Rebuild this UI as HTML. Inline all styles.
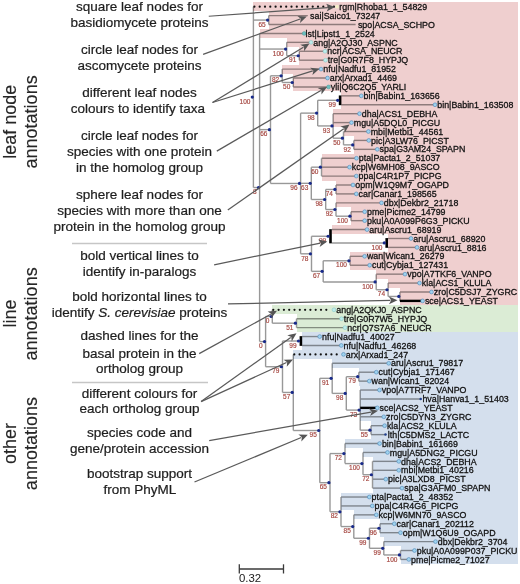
<!DOCTYPE html>
<html><head><meta charset="utf-8"><title>tree</title>
<style>
html,body{margin:0;padding:0;background:#fff;}
body{width:520px;height:584px;overflow:hidden;}
svg{display:block;}
</style></head><body>
<svg width="520" height="584" viewBox="0 0 520 584">
<rect width="520" height="584" fill="#fff"/>
<g shape-rendering="crispEdges">
<rect x="253.40" y="2.24" width="264.20" height="8.93" fill="#efcfcf"/>
<rect x="268.70" y="11.16" width="248.90" height="8.93" fill="#efcfcf"/>
<rect x="268.70" y="20.07" width="248.90" height="8.93" fill="#efcfcf"/>
<rect x="259.60" y="28.99" width="258.00" height="8.93" fill="#efcfcf"/>
<rect x="286.70" y="37.90" width="230.90" height="8.93" fill="#efcfcf"/>
<rect x="299.30" y="46.82" width="218.30" height="8.93" fill="#efcfcf"/>
<rect x="299.30" y="55.73" width="218.30" height="8.93" fill="#efcfcf"/>
<rect x="282.20" y="64.65" width="235.40" height="8.93" fill="#efcfcf"/>
<rect x="293.30" y="73.56" width="224.30" height="8.93" fill="#efcfcf"/>
<rect x="293.30" y="82.48" width="224.30" height="8.93" fill="#efcfcf"/>
<rect x="341.40" y="91.39" width="176.20" height="8.93" fill="#efcfcf"/>
<rect x="341.40" y="100.31" width="176.20" height="8.93" fill="#efcfcf"/>
<rect x="333.10" y="109.22" width="184.50" height="8.93" fill="#efcfcf"/>
<rect x="333.10" y="118.14" width="184.50" height="8.93" fill="#efcfcf"/>
<rect x="343.50" y="127.05" width="174.10" height="8.93" fill="#efcfcf"/>
<rect x="353.80" y="135.97" width="163.80" height="8.93" fill="#efcfcf"/>
<rect x="353.80" y="144.88" width="163.80" height="8.93" fill="#efcfcf"/>
<rect x="321.50" y="153.80" width="196.10" height="8.93" fill="#efcfcf"/>
<rect x="321.50" y="162.71" width="196.10" height="8.93" fill="#efcfcf"/>
<rect x="321.50" y="171.63" width="196.10" height="8.93" fill="#efcfcf"/>
<rect x="336.00" y="180.54" width="181.60" height="8.93" fill="#efcfcf"/>
<rect x="336.00" y="189.46" width="181.60" height="8.93" fill="#efcfcf"/>
<rect x="336.00" y="198.37" width="181.60" height="8.93" fill="#efcfcf"/>
<rect x="351.00" y="207.29" width="166.60" height="8.93" fill="#efcfcf"/>
<rect x="351.00" y="216.20" width="166.60" height="8.93" fill="#efcfcf"/>
<rect x="331.80" y="225.12" width="185.80" height="8.93" fill="#efcfcf"/>
<rect x="388.00" y="234.03" width="129.60" height="8.93" fill="#efcfcf"/>
<rect x="388.00" y="242.95" width="129.60" height="8.93" fill="#efcfcf"/>
<rect x="350.00" y="251.86" width="167.60" height="8.93" fill="#efcfcf"/>
<rect x="350.00" y="260.78" width="167.60" height="8.93" fill="#efcfcf"/>
<rect x="376.20" y="269.69" width="141.40" height="8.93" fill="#efcfcf"/>
<rect x="388.10" y="278.61" width="129.50" height="8.93" fill="#efcfcf"/>
<rect x="399.90" y="287.52" width="117.70" height="8.93" fill="#efcfcf"/>
<rect x="399.90" y="296.44" width="117.70" height="8.93" fill="#efcfcf"/>
<rect x="272.30" y="305.35" width="245.30" height="8.93" fill="#dbecd5"/>
<rect x="296.50" y="314.27" width="221.10" height="8.93" fill="#dbecd5"/>
<rect x="296.50" y="323.18" width="221.10" height="8.93" fill="#dbecd5"/>
<rect x="302.20" y="332.10" width="215.40" height="8.93" fill="#d4dfed"/>
<rect x="302.20" y="341.01" width="215.40" height="8.93" fill="#d4dfed"/>
<rect x="293.30" y="349.93" width="224.30" height="8.93" fill="#d4dfed"/>
<rect x="332.20" y="358.84" width="185.40" height="8.93" fill="#d4dfed"/>
<rect x="358.80" y="367.76" width="158.80" height="8.93" fill="#d4dfed"/>
<rect x="358.80" y="376.67" width="158.80" height="8.93" fill="#d4dfed"/>
<rect x="360.20" y="385.59" width="157.40" height="8.93" fill="#d4dfed"/>
<rect x="360.20" y="394.50" width="157.40" height="8.93" fill="#d4dfed"/>
<rect x="360.20" y="403.42" width="157.40" height="8.93" fill="#d4dfed"/>
<rect x="360.20" y="412.33" width="157.40" height="8.93" fill="#d4dfed"/>
<rect x="371.00" y="421.25" width="146.60" height="8.93" fill="#d4dfed"/>
<rect x="371.00" y="430.16" width="146.60" height="8.93" fill="#d4dfed"/>
<rect x="345.00" y="439.08" width="172.60" height="8.93" fill="#d4dfed"/>
<rect x="363.00" y="447.99" width="154.60" height="8.93" fill="#d4dfed"/>
<rect x="372.50" y="456.91" width="145.10" height="8.93" fill="#d4dfed"/>
<rect x="372.50" y="465.82" width="145.10" height="8.93" fill="#d4dfed"/>
<rect x="372.50" y="474.74" width="145.10" height="8.93" fill="#d4dfed"/>
<rect x="372.50" y="483.65" width="145.10" height="8.93" fill="#d4dfed"/>
<rect x="341.00" y="492.57" width="176.60" height="8.93" fill="#d4dfed"/>
<rect x="341.00" y="501.48" width="176.60" height="8.93" fill="#d4dfed"/>
<rect x="353.80" y="510.40" width="163.80" height="8.93" fill="#d4dfed"/>
<rect x="380.00" y="519.31" width="137.60" height="8.93" fill="#d4dfed"/>
<rect x="380.00" y="528.23" width="137.60" height="8.93" fill="#d4dfed"/>
<rect x="383.80" y="537.14" width="133.80" height="8.93" fill="#d4dfed"/>
<rect x="400.50" y="546.06" width="117.10" height="8.93" fill="#d4dfed"/>
<rect x="400.50" y="554.97" width="117.10" height="8.93" fill="#d4dfed"/>
</g>
<g style="mix-blend-mode:multiply">
<line x1="268.70" y1="15.61" x2="268.70" y2="24.53" stroke="#989898" stroke-width="1.4"/>
<line x1="253.40" y1="20.07" x2="268.70" y2="20.07" stroke="#989898" stroke-width="1.4"/>
<line x1="299.30" y1="51.27" x2="299.30" y2="60.19" stroke="#989898" stroke-width="1.4"/>
<line x1="286.70" y1="55.73" x2="299.30" y2="55.73" stroke="#989898" stroke-width="1.4"/>
<line x1="286.70" y1="42.36" x2="286.70" y2="55.73" stroke="#989898" stroke-width="1.4"/>
<line x1="259.60" y1="49.05" x2="286.70" y2="49.05" stroke="#989898" stroke-width="1.4"/>
<line x1="293.30" y1="78.02" x2="293.30" y2="86.93" stroke="#989898" stroke-width="1.4"/>
<line x1="282.20" y1="82.48" x2="293.30" y2="82.48" stroke="#989898" stroke-width="1.4"/>
<line x1="282.20" y1="69.10" x2="282.20" y2="82.48" stroke="#989898" stroke-width="1.4"/>
<line x1="270.50" y1="75.79" x2="282.20" y2="75.79" stroke="#989898" stroke-width="1.4"/>
<line x1="317.70" y1="100.31" x2="338.80" y2="100.31" stroke="#989898" stroke-width="1.4"/>
<line x1="353.80" y1="140.42" x2="353.80" y2="149.34" stroke="#989898" stroke-width="1.4"/>
<line x1="343.50" y1="144.88" x2="353.80" y2="144.88" stroke="#989898" stroke-width="1.4"/>
<line x1="343.50" y1="131.51" x2="343.50" y2="144.88" stroke="#989898" stroke-width="1.4"/>
<line x1="333.10" y1="138.20" x2="343.50" y2="138.20" stroke="#989898" stroke-width="1.4"/>
<line x1="333.10" y1="113.68" x2="333.10" y2="138.20" stroke="#989898" stroke-width="1.4"/>
<line x1="317.70" y1="125.94" x2="333.10" y2="125.94" stroke="#989898" stroke-width="1.4"/>
<line x1="317.70" y1="100.31" x2="317.70" y2="125.94" stroke="#989898" stroke-width="1.4"/>
<line x1="300.60" y1="113.12" x2="317.70" y2="113.12" stroke="#989898" stroke-width="1.4"/>
<line x1="321.50" y1="158.25" x2="321.50" y2="176.08" stroke="#989898" stroke-width="1.4"/>
<line x1="311.30" y1="167.17" x2="321.50" y2="167.17" stroke="#989898" stroke-width="1.4"/>
<line x1="336.00" y1="185.00" x2="336.00" y2="193.91" stroke="#989898" stroke-width="1.4"/>
<line x1="325.70" y1="189.46" x2="336.00" y2="189.46" stroke="#989898" stroke-width="1.4"/>
<line x1="351.00" y1="211.74" x2="351.00" y2="220.66" stroke="#989898" stroke-width="1.4"/>
<line x1="336.00" y1="216.20" x2="351.00" y2="216.20" stroke="#989898" stroke-width="1.4"/>
<line x1="336.00" y1="202.83" x2="336.00" y2="216.20" stroke="#989898" stroke-width="1.4"/>
<line x1="325.70" y1="209.52" x2="336.00" y2="209.52" stroke="#989898" stroke-width="1.4"/>
<line x1="325.70" y1="189.46" x2="325.70" y2="209.52" stroke="#989898" stroke-width="1.4"/>
<line x1="311.30" y1="199.49" x2="325.70" y2="199.49" stroke="#989898" stroke-width="1.4"/>
<line x1="311.30" y1="167.17" x2="311.30" y2="199.49" stroke="#989898" stroke-width="1.4"/>
<line x1="300.60" y1="183.33" x2="311.30" y2="183.33" stroke="#989898" stroke-width="1.4"/>
<line x1="331.80" y1="242.95" x2="385.40" y2="242.95" stroke="#989898" stroke-width="1.4"/>
<line x1="311.50" y1="236.26" x2="329.20" y2="236.26" stroke="#989898" stroke-width="1.4"/>
<line x1="350.00" y1="256.32" x2="350.00" y2="265.23" stroke="#989898" stroke-width="1.4"/>
<line x1="323.20" y1="260.78" x2="350.00" y2="260.78" stroke="#989898" stroke-width="1.4"/>
<line x1="399.90" y1="291.98" x2="399.90" y2="300.89" stroke="#989898" stroke-width="1.4"/>
<line x1="388.10" y1="296.44" x2="399.90" y2="296.44" stroke="#989898" stroke-width="1.4"/>
<line x1="388.10" y1="283.06" x2="388.10" y2="296.44" stroke="#989898" stroke-width="1.4"/>
<line x1="376.20" y1="289.75" x2="388.10" y2="289.75" stroke="#989898" stroke-width="1.4"/>
<line x1="376.20" y1="274.15" x2="376.20" y2="289.75" stroke="#989898" stroke-width="1.4"/>
<line x1="323.20" y1="281.95" x2="376.20" y2="281.95" stroke="#989898" stroke-width="1.4"/>
<line x1="323.20" y1="260.78" x2="323.20" y2="281.95" stroke="#989898" stroke-width="1.4"/>
<line x1="311.50" y1="271.36" x2="323.20" y2="271.36" stroke="#989898" stroke-width="1.4"/>
<line x1="311.50" y1="236.26" x2="311.50" y2="271.36" stroke="#989898" stroke-width="1.4"/>
<line x1="300.60" y1="253.81" x2="311.50" y2="253.81" stroke="#989898" stroke-width="1.4"/>
<line x1="300.60" y1="113.12" x2="300.60" y2="253.81" stroke="#989898" stroke-width="1.4"/>
<line x1="270.50" y1="183.47" x2="300.60" y2="183.47" stroke="#989898" stroke-width="1.4"/>
<line x1="270.50" y1="75.79" x2="270.50" y2="183.47" stroke="#989898" stroke-width="1.4"/>
<line x1="259.60" y1="129.63" x2="270.50" y2="129.63" stroke="#989898" stroke-width="1.4"/>
<line x1="296.50" y1="318.72" x2="296.50" y2="327.64" stroke="#989898" stroke-width="1.4"/>
<line x1="272.30" y1="323.18" x2="296.50" y2="323.18" stroke="#989898" stroke-width="1.4"/>
<line x1="272.30" y1="309.81" x2="272.30" y2="323.18" stroke="#989898" stroke-width="1.4"/>
<line x1="265.60" y1="316.50" x2="272.30" y2="316.50" stroke="#989898" stroke-width="1.4"/>
<line x1="282.50" y1="341.01" x2="299.60" y2="341.01" stroke="#989898" stroke-width="1.4"/>
<line x1="358.80" y1="372.21" x2="358.80" y2="381.13" stroke="#989898" stroke-width="1.4"/>
<line x1="346.30" y1="376.67" x2="358.80" y2="376.67" stroke="#989898" stroke-width="1.4"/>
<line x1="371.00" y1="425.70" x2="371.00" y2="434.62" stroke="#989898" stroke-width="1.4"/>
<line x1="360.20" y1="430.16" x2="371.00" y2="430.16" stroke="#989898" stroke-width="1.4"/>
<line x1="360.20" y1="390.04" x2="360.20" y2="430.16" stroke="#989898" stroke-width="1.4"/>
<line x1="346.30" y1="410.10" x2="360.20" y2="410.10" stroke="#989898" stroke-width="1.4"/>
<line x1="346.30" y1="376.67" x2="346.30" y2="410.10" stroke="#989898" stroke-width="1.4"/>
<line x1="332.20" y1="393.39" x2="346.30" y2="393.39" stroke="#989898" stroke-width="1.4"/>
<line x1="332.20" y1="363.30" x2="332.20" y2="393.39" stroke="#989898" stroke-width="1.4"/>
<line x1="319.80" y1="378.34" x2="332.20" y2="378.34" stroke="#989898" stroke-width="1.4"/>
<line x1="372.50" y1="461.36" x2="372.50" y2="488.11" stroke="#989898" stroke-width="1.4"/>
<line x1="363.00" y1="474.74" x2="372.50" y2="474.74" stroke="#989898" stroke-width="1.4"/>
<line x1="363.00" y1="452.45" x2="363.00" y2="474.74" stroke="#989898" stroke-width="1.4"/>
<line x1="345.00" y1="463.59" x2="363.00" y2="463.59" stroke="#989898" stroke-width="1.4"/>
<line x1="345.00" y1="443.53" x2="345.00" y2="463.59" stroke="#989898" stroke-width="1.4"/>
<line x1="330.00" y1="453.56" x2="345.00" y2="453.56" stroke="#989898" stroke-width="1.4"/>
<line x1="380.00" y1="523.77" x2="380.00" y2="532.68" stroke="#989898" stroke-width="1.4"/>
<line x1="369.50" y1="528.23" x2="380.00" y2="528.23" stroke="#989898" stroke-width="1.4"/>
<line x1="400.50" y1="550.51" x2="400.50" y2="559.43" stroke="#989898" stroke-width="1.4"/>
<line x1="383.80" y1="554.97" x2="400.50" y2="554.97" stroke="#989898" stroke-width="1.4"/>
<line x1="383.80" y1="541.60" x2="383.80" y2="554.97" stroke="#989898" stroke-width="1.4"/>
<line x1="369.50" y1="548.29" x2="383.80" y2="548.29" stroke="#989898" stroke-width="1.4"/>
<line x1="369.50" y1="528.23" x2="369.50" y2="548.29" stroke="#989898" stroke-width="1.4"/>
<line x1="353.80" y1="538.26" x2="369.50" y2="538.26" stroke="#989898" stroke-width="1.4"/>
<line x1="353.80" y1="514.86" x2="353.80" y2="538.26" stroke="#989898" stroke-width="1.4"/>
<line x1="341.00" y1="526.56" x2="353.80" y2="526.56" stroke="#989898" stroke-width="1.4"/>
<line x1="341.00" y1="497.02" x2="341.00" y2="526.56" stroke="#989898" stroke-width="1.4"/>
<line x1="330.00" y1="511.79" x2="341.00" y2="511.79" stroke="#989898" stroke-width="1.4"/>
<line x1="330.00" y1="453.56" x2="330.00" y2="511.79" stroke="#989898" stroke-width="1.4"/>
<line x1="319.80" y1="482.68" x2="330.00" y2="482.68" stroke="#989898" stroke-width="1.4"/>
<line x1="319.80" y1="378.34" x2="319.80" y2="482.68" stroke="#989898" stroke-width="1.4"/>
<line x1="293.30" y1="430.51" x2="319.80" y2="430.51" stroke="#989898" stroke-width="1.4"/>
<line x1="293.30" y1="354.38" x2="293.30" y2="430.51" stroke="#989898" stroke-width="1.4"/>
<line x1="282.50" y1="392.45" x2="293.30" y2="392.45" stroke="#989898" stroke-width="1.4"/>
<line x1="282.50" y1="341.01" x2="282.50" y2="392.45" stroke="#989898" stroke-width="1.4"/>
<line x1="265.60" y1="366.73" x2="282.50" y2="366.73" stroke="#989898" stroke-width="1.4"/>
<line x1="265.60" y1="316.50" x2="265.60" y2="366.73" stroke="#989898" stroke-width="1.4"/>
<line x1="259.60" y1="341.61" x2="265.60" y2="341.61" stroke="#989898" stroke-width="1.4"/>
<line x1="259.60" y1="33.45" x2="259.60" y2="341.61" stroke="#989898" stroke-width="1.4"/>
<line x1="253.40" y1="187.53" x2="259.60" y2="187.53" stroke="#989898" stroke-width="1.4"/>
<line x1="253.40" y1="6.70" x2="253.40" y2="187.53" stroke="#989898" stroke-width="1.4"/>
<line x1="268.70" y1="15.61" x2="307.80" y2="15.61" stroke="#989898" stroke-width="1.4"/>
<line x1="268.70" y1="24.53" x2="355.60" y2="24.53" stroke="#989898" stroke-width="1.4"/>
<line x1="259.60" y1="33.45" x2="304.20" y2="33.45" stroke="#989898" stroke-width="1.4"/>
<line x1="286.70" y1="42.36" x2="311.00" y2="42.36" stroke="#989898" stroke-width="1.4"/>
<line x1="299.30" y1="51.27" x2="325.00" y2="51.27" stroke="#989898" stroke-width="1.4"/>
<line x1="299.30" y1="60.19" x2="325.50" y2="60.19" stroke="#989898" stroke-width="1.4"/>
<line x1="282.20" y1="69.10" x2="321.00" y2="69.10" stroke="#989898" stroke-width="1.4"/>
<line x1="293.30" y1="78.02" x2="327.50" y2="78.02" stroke="#989898" stroke-width="1.4"/>
<line x1="293.30" y1="86.93" x2="328.50" y2="86.93" stroke="#989898" stroke-width="1.4"/>
<line x1="341.40" y1="95.85" x2="361.30" y2="95.85" stroke="#989898" stroke-width="1.4"/>
<line x1="341.40" y1="104.77" x2="435.00" y2="104.77" stroke="#989898" stroke-width="1.4"/>
<line x1="333.10" y1="113.68" x2="359.50" y2="113.68" stroke="#989898" stroke-width="1.4"/>
<line x1="333.10" y1="122.59" x2="351.50" y2="122.59" stroke="#989898" stroke-width="1.4"/>
<line x1="343.50" y1="131.51" x2="368.40" y2="131.51" stroke="#989898" stroke-width="1.4"/>
<line x1="353.80" y1="140.42" x2="368.80" y2="140.42" stroke="#989898" stroke-width="1.4"/>
<line x1="353.80" y1="149.34" x2="377.30" y2="149.34" stroke="#989898" stroke-width="1.4"/>
<line x1="321.50" y1="158.25" x2="356.50" y2="158.25" stroke="#989898" stroke-width="1.4"/>
<line x1="321.50" y1="167.17" x2="349.50" y2="167.17" stroke="#989898" stroke-width="1.4"/>
<line x1="321.50" y1="176.08" x2="356.30" y2="176.08" stroke="#989898" stroke-width="1.4"/>
<line x1="336.00" y1="185.00" x2="353.00" y2="185.00" stroke="#989898" stroke-width="1.4"/>
<line x1="336.00" y1="193.91" x2="356.30" y2="193.91" stroke="#989898" stroke-width="1.4"/>
<line x1="336.00" y1="202.83" x2="381.50" y2="202.83" stroke="#989898" stroke-width="1.4"/>
<line x1="351.00" y1="211.74" x2="364.70" y2="211.74" stroke="#989898" stroke-width="1.4"/>
<line x1="351.00" y1="220.66" x2="364.70" y2="220.66" stroke="#989898" stroke-width="1.4"/>
<line x1="331.80" y1="229.57" x2="367.00" y2="229.57" stroke="#989898" stroke-width="1.4"/>
<line x1="388.00" y1="238.49" x2="411.00" y2="238.49" stroke="#989898" stroke-width="1.4"/>
<line x1="388.00" y1="247.40" x2="417.00" y2="247.40" stroke="#989898" stroke-width="1.4"/>
<line x1="350.00" y1="256.32" x2="364.60" y2="256.32" stroke="#989898" stroke-width="1.4"/>
<line x1="350.00" y1="265.23" x2="369.70" y2="265.23" stroke="#989898" stroke-width="1.4"/>
<line x1="376.20" y1="274.15" x2="405.00" y2="274.15" stroke="#989898" stroke-width="1.4"/>
<line x1="388.10" y1="283.06" x2="419.50" y2="283.06" stroke="#989898" stroke-width="1.4"/>
<line x1="399.90" y1="291.98" x2="431.50" y2="291.98" stroke="#989898" stroke-width="1.4"/>
<line x1="296.50" y1="318.72" x2="341.50" y2="318.72" stroke="#989898" stroke-width="1.4"/>
<line x1="296.50" y1="327.64" x2="345.00" y2="327.64" stroke="#989898" stroke-width="1.4"/>
<line x1="302.20" y1="336.55" x2="319.70" y2="336.55" stroke="#989898" stroke-width="1.4"/>
<line x1="302.20" y1="345.47" x2="341.30" y2="345.47" stroke="#989898" stroke-width="1.4"/>
<line x1="332.20" y1="363.30" x2="388.70" y2="363.30" stroke="#989898" stroke-width="1.4"/>
<line x1="358.80" y1="372.21" x2="376.30" y2="372.21" stroke="#989898" stroke-width="1.4"/>
<line x1="358.80" y1="381.13" x2="369.30" y2="381.13" stroke="#989898" stroke-width="1.4"/>
<line x1="360.20" y1="390.04" x2="379.50" y2="390.04" stroke="#989898" stroke-width="1.4"/>
<line x1="360.20" y1="398.96" x2="420.70" y2="398.96" stroke="#989898" stroke-width="1.4"/>
<line x1="360.20" y1="416.79" x2="383.80" y2="416.79" stroke="#989898" stroke-width="1.4"/>
<line x1="371.00" y1="425.70" x2="384.60" y2="425.70" stroke="#989898" stroke-width="1.4"/>
<line x1="371.00" y1="434.62" x2="385.50" y2="434.62" stroke="#989898" stroke-width="1.4"/>
<line x1="345.00" y1="443.53" x2="379.60" y2="443.53" stroke="#989898" stroke-width="1.4"/>
<line x1="363.00" y1="452.45" x2="387.50" y2="452.45" stroke="#989898" stroke-width="1.4"/>
<line x1="372.50" y1="461.36" x2="398.80" y2="461.36" stroke="#989898" stroke-width="1.4"/>
<line x1="372.50" y1="470.28" x2="398.80" y2="470.28" stroke="#989898" stroke-width="1.4"/>
<line x1="372.50" y1="479.19" x2="385.80" y2="479.19" stroke="#989898" stroke-width="1.4"/>
<line x1="372.50" y1="488.11" x2="402.00" y2="488.11" stroke="#989898" stroke-width="1.4"/>
<line x1="341.00" y1="497.02" x2="369.30" y2="497.02" stroke="#989898" stroke-width="1.4"/>
<line x1="341.00" y1="505.94" x2="372.30" y2="505.94" stroke="#989898" stroke-width="1.4"/>
<line x1="353.80" y1="514.86" x2="376.30" y2="514.86" stroke="#989898" stroke-width="1.4"/>
<line x1="380.00" y1="523.77" x2="394.30" y2="523.77" stroke="#989898" stroke-width="1.4"/>
<line x1="380.00" y1="532.68" x2="400.50" y2="532.68" stroke="#989898" stroke-width="1.4"/>
<line x1="383.80" y1="541.60" x2="435.50" y2="541.60" stroke="#989898" stroke-width="1.4"/>
<line x1="400.50" y1="550.51" x2="414.50" y2="550.51" stroke="#989898" stroke-width="1.4"/>
<line x1="400.50" y1="559.43" x2="408.80" y2="559.43" stroke="#989898" stroke-width="1.4"/>
</g>
<g>
<rect x="338.80" y="95.45" width="2.6" height="9.72" fill="#000"/>
<rect x="385.40" y="238.09" width="2.6" height="9.72" fill="#000"/>
<rect x="329.20" y="229.17" width="2.6" height="14.17" fill="#000"/>
<rect x="299.60" y="336.15" width="2.6" height="9.72" fill="#000"/>
<line x1="399.90" y1="300.89" x2="422.60" y2="300.89" stroke="#000" stroke-width="2.4"/>
<line x1="360.20" y1="407.87" x2="377.30" y2="407.87" stroke="#000" stroke-width="2.4"/>
</g>
<g>
<circle cx="254.40" cy="6.70" r="1.1" fill="#111"/>
<circle cx="259.70" cy="6.70" r="1.1" fill="#111"/>
<circle cx="265.00" cy="6.70" r="1.1" fill="#111"/>
<circle cx="270.30" cy="6.70" r="1.1" fill="#111"/>
<circle cx="275.60" cy="6.70" r="1.1" fill="#111"/>
<circle cx="280.90" cy="6.70" r="1.1" fill="#111"/>
<circle cx="286.20" cy="6.70" r="1.1" fill="#111"/>
<circle cx="291.50" cy="6.70" r="1.1" fill="#111"/>
<circle cx="296.80" cy="6.70" r="1.1" fill="#111"/>
<circle cx="302.10" cy="6.70" r="1.1" fill="#111"/>
<circle cx="307.40" cy="6.70" r="1.1" fill="#111"/>
<circle cx="312.70" cy="6.70" r="1.1" fill="#111"/>
<circle cx="318.00" cy="6.70" r="1.1" fill="#111"/>
<circle cx="323.30" cy="6.70" r="1.1" fill="#111"/>
<circle cx="328.60" cy="6.70" r="1.1" fill="#111"/>
<circle cx="333.90" cy="6.70" r="1.1" fill="#111"/>
<circle cx="273.30" cy="309.81" r="1.1" fill="#111"/>
<circle cx="278.60" cy="309.81" r="1.1" fill="#111"/>
<circle cx="283.90" cy="309.81" r="1.1" fill="#111"/>
<circle cx="289.20" cy="309.81" r="1.1" fill="#111"/>
<circle cx="294.50" cy="309.81" r="1.1" fill="#111"/>
<circle cx="299.80" cy="309.81" r="1.1" fill="#111"/>
<circle cx="305.10" cy="309.81" r="1.1" fill="#111"/>
<circle cx="310.40" cy="309.81" r="1.1" fill="#111"/>
<circle cx="315.70" cy="309.81" r="1.1" fill="#111"/>
<circle cx="321.00" cy="309.81" r="1.1" fill="#111"/>
<circle cx="326.30" cy="309.81" r="1.1" fill="#111"/>
<circle cx="294.30" cy="354.38" r="1.1" fill="#111"/>
<circle cx="299.60" cy="354.38" r="1.1" fill="#111"/>
<circle cx="304.90" cy="354.38" r="1.1" fill="#111"/>
<circle cx="310.20" cy="354.38" r="1.1" fill="#111"/>
<circle cx="315.50" cy="354.38" r="1.1" fill="#111"/>
<circle cx="320.80" cy="354.38" r="1.1" fill="#111"/>
<circle cx="326.10" cy="354.38" r="1.1" fill="#111"/>
<circle cx="331.40" cy="354.38" r="1.1" fill="#111"/>
<circle cx="336.70" cy="354.38" r="1.1" fill="#111"/>
</g>
<g>
<circle cx="267.60" cy="20.07" r="1.6" fill="#17298a"/>
<circle cx="298.20" cy="55.73" r="1.6" fill="#17298a"/>
<circle cx="285.60" cy="49.05" r="1.6" fill="#17298a"/>
<circle cx="292.20" cy="82.48" r="1.6" fill="#17298a"/>
<circle cx="281.10" cy="75.79" r="1.6" fill="#17298a"/>
<circle cx="337.70" cy="100.31" r="1.6" fill="#17298a"/>
<circle cx="352.70" cy="144.88" r="1.6" fill="#17298a"/>
<circle cx="342.40" cy="138.20" r="1.6" fill="#17298a"/>
<circle cx="332.00" cy="125.94" r="1.6" fill="#17298a"/>
<circle cx="316.60" cy="113.12" r="1.6" fill="#17298a"/>
<circle cx="320.40" cy="167.17" r="1.6" fill="#17298a"/>
<circle cx="334.90" cy="189.46" r="1.6" fill="#17298a"/>
<circle cx="349.90" cy="216.20" r="1.6" fill="#17298a"/>
<circle cx="334.90" cy="209.52" r="1.6" fill="#17298a"/>
<circle cx="324.60" cy="199.49" r="1.6" fill="#17298a"/>
<circle cx="310.20" cy="183.33" r="1.6" fill="#17298a"/>
<circle cx="384.30" cy="242.95" r="1.6" fill="#17298a"/>
<circle cx="328.10" cy="236.26" r="1.6" fill="#17298a"/>
<circle cx="348.90" cy="260.78" r="1.6" fill="#17298a"/>
<circle cx="398.80" cy="296.44" r="1.6" fill="#17298a"/>
<circle cx="387.00" cy="289.75" r="1.6" fill="#17298a"/>
<circle cx="375.10" cy="281.95" r="1.6" fill="#17298a"/>
<circle cx="322.10" cy="271.36" r="1.6" fill="#17298a"/>
<circle cx="310.40" cy="253.81" r="1.6" fill="#17298a"/>
<circle cx="299.50" cy="183.47" r="1.6" fill="#17298a"/>
<circle cx="269.40" cy="129.63" r="1.6" fill="#17298a"/>
<circle cx="295.40" cy="323.18" r="1.6" fill="#17298a"/>
<circle cx="271.20" cy="316.50" r="1.6" fill="#17298a"/>
<circle cx="298.50" cy="341.01" r="1.6" fill="#17298a"/>
<circle cx="357.70" cy="376.67" r="1.6" fill="#17298a"/>
<circle cx="369.90" cy="430.16" r="1.6" fill="#17298a"/>
<circle cx="359.10" cy="410.10" r="1.6" fill="#17298a"/>
<circle cx="345.20" cy="393.39" r="1.6" fill="#17298a"/>
<circle cx="331.10" cy="378.34" r="1.6" fill="#17298a"/>
<circle cx="371.40" cy="474.74" r="1.6" fill="#17298a"/>
<circle cx="361.90" cy="463.59" r="1.6" fill="#17298a"/>
<circle cx="343.90" cy="453.56" r="1.6" fill="#17298a"/>
<circle cx="378.90" cy="528.23" r="1.6" fill="#17298a"/>
<circle cx="399.40" cy="554.97" r="1.6" fill="#17298a"/>
<circle cx="382.70" cy="548.29" r="1.6" fill="#17298a"/>
<circle cx="368.40" cy="538.26" r="1.6" fill="#17298a"/>
<circle cx="352.70" cy="526.56" r="1.6" fill="#17298a"/>
<circle cx="339.90" cy="511.79" r="1.6" fill="#17298a"/>
<circle cx="328.90" cy="482.68" r="1.6" fill="#17298a"/>
<circle cx="318.70" cy="430.51" r="1.6" fill="#17298a"/>
<circle cx="292.20" cy="392.45" r="1.6" fill="#17298a"/>
<circle cx="281.40" cy="366.73" r="1.6" fill="#17298a"/>
<circle cx="264.50" cy="341.61" r="1.6" fill="#17298a"/>
<circle cx="258.50" cy="187.53" r="1.6" fill="#17298a"/>
<circle cx="252.30" cy="97.11" r="1.6" fill="#17298a"/>
</g>
<g>
<rect x="335.40" y="5.10" width="3.2" height="3.2" fill="#f4f2c8"/>
<circle cx="304.20" cy="33.45" r="1.9" fill="#6cc0c0" stroke="#4d9a9a" stroke-width="0.5"/>
<circle cx="311.00" cy="42.36" r="1.9" fill="#bfeceb" stroke="#7cc4c4" stroke-width="0.5"/>
<circle cx="325.00" cy="51.27" r="1.9" fill="#bfeceb" stroke="#7cc4c4" stroke-width="0.5"/>
<circle cx="325.50" cy="60.19" r="1.9" fill="#bfeceb" stroke="#7cc4c4" stroke-width="0.5"/>
<circle cx="321.00" cy="69.10" r="1.9" fill="#9fd3ee" stroke="#4f86b8" stroke-width="0.6"/>
<circle cx="327.50" cy="78.02" r="1.9" fill="#9fd3ee" stroke="#4f86b8" stroke-width="0.6"/>
<circle cx="328.50" cy="86.93" r="1.9" fill="#6cc0c0" stroke="#4d9a9a" stroke-width="0.5"/>
<circle cx="361.30" cy="95.85" r="1.9" fill="#9fd3ee" stroke="#4f86b8" stroke-width="0.6"/>
<circle cx="435.00" cy="104.77" r="1.9" fill="#9fd3ee" stroke="#4f86b8" stroke-width="0.6"/>
<circle cx="359.50" cy="113.68" r="1.9" fill="#9fd3ee" stroke="#4f86b8" stroke-width="0.6"/>
<circle cx="351.50" cy="122.59" r="1.9" fill="#9fd3ee" stroke="#4f86b8" stroke-width="0.6"/>
<circle cx="368.40" cy="131.51" r="1.9" fill="#9fd3ee" stroke="#4f86b8" stroke-width="0.6"/>
<circle cx="368.80" cy="140.42" r="1.9" fill="#9fd3ee" stroke="#4f86b8" stroke-width="0.6"/>
<circle cx="377.30" cy="149.34" r="1.9" fill="#9fd3ee" stroke="#4f86b8" stroke-width="0.6"/>
<circle cx="356.50" cy="158.25" r="1.9" fill="#9fd3ee" stroke="#4f86b8" stroke-width="0.6"/>
<circle cx="349.50" cy="167.17" r="1.9" fill="#9fd3ee" stroke="#4f86b8" stroke-width="0.6"/>
<circle cx="356.30" cy="176.08" r="1.9" fill="#9fd3ee" stroke="#4f86b8" stroke-width="0.6"/>
<circle cx="353.00" cy="185.00" r="1.9" fill="#9fd3ee" stroke="#4f86b8" stroke-width="0.6"/>
<circle cx="356.30" cy="193.91" r="1.9" fill="#9fd3ee" stroke="#4f86b8" stroke-width="0.6"/>
<circle cx="381.50" cy="202.83" r="1.9" fill="#9fd3ee" stroke="#4f86b8" stroke-width="0.6"/>
<circle cx="364.70" cy="211.74" r="1.9" fill="#9fd3ee" stroke="#4f86b8" stroke-width="0.6"/>
<circle cx="364.70" cy="220.66" r="1.9" fill="#9fd3ee" stroke="#4f86b8" stroke-width="0.6"/>
<circle cx="367.00" cy="229.57" r="1.9" fill="#9fd3ee" stroke="#4f86b8" stroke-width="0.6"/>
<circle cx="411.00" cy="238.49" r="1.9" fill="#9fd3ee" stroke="#4f86b8" stroke-width="0.6"/>
<circle cx="417.00" cy="247.40" r="1.9" fill="#9fd3ee" stroke="#4f86b8" stroke-width="0.6"/>
<circle cx="364.60" cy="256.32" r="1.9" fill="#9fd3ee" stroke="#4f86b8" stroke-width="0.6"/>
<circle cx="369.70" cy="265.23" r="1.9" fill="#9fd3ee" stroke="#4f86b8" stroke-width="0.6"/>
<circle cx="405.00" cy="274.15" r="1.9" fill="#9fd3ee" stroke="#4f86b8" stroke-width="0.6"/>
<circle cx="419.50" cy="283.06" r="1.9" fill="#9fd3ee" stroke="#4f86b8" stroke-width="0.6"/>
<circle cx="431.50" cy="291.98" r="1.9" fill="#9fd3ee" stroke="#4f86b8" stroke-width="0.6"/>
<circle cx="422.60" cy="300.89" r="1.9" fill="#9fd3ee" stroke="#4f86b8" stroke-width="0.6"/>
<circle cx="334.00" cy="309.81" r="1.9" fill="#bfeceb" stroke="#7cc4c4" stroke-width="0.5"/>
<circle cx="341.50" cy="318.72" r="1.9" fill="#bfeceb" stroke="#7cc4c4" stroke-width="0.5"/>
<circle cx="345.00" cy="327.64" r="1.9" fill="#bfeceb" stroke="#7cc4c4" stroke-width="0.5"/>
<circle cx="319.70" cy="336.55" r="1.9" fill="#9fd3ee" stroke="#4f86b8" stroke-width="0.6"/>
<circle cx="341.30" cy="345.47" r="1.9" fill="#9fd3ee" stroke="#4f86b8" stroke-width="0.6"/>
<circle cx="343.50" cy="354.38" r="1.9" fill="#9fd3ee" stroke="#4f86b8" stroke-width="0.6"/>
<circle cx="388.70" cy="363.30" r="1.9" fill="#9fd3ee" stroke="#4f86b8" stroke-width="0.6"/>
<circle cx="376.30" cy="372.21" r="1.9" fill="#9fd3ee" stroke="#4f86b8" stroke-width="0.6"/>
<circle cx="369.30" cy="381.13" r="1.9" fill="#9fd3ee" stroke="#4f86b8" stroke-width="0.6"/>
<circle cx="379.50" cy="390.04" r="1.9" fill="#9fd3ee" stroke="#4f86b8" stroke-width="0.6"/>
<circle cx="420.70" cy="398.96" r="1.25" fill="#22408e"/>
<circle cx="377.30" cy="407.87" r="1.9" fill="#9fd3ee" stroke="#4f86b8" stroke-width="0.6"/>
<circle cx="383.80" cy="416.79" r="1.9" fill="#9fd3ee" stroke="#4f86b8" stroke-width="0.6"/>
<circle cx="384.60" cy="425.70" r="1.9" fill="#9fd3ee" stroke="#4f86b8" stroke-width="0.6"/>
<circle cx="385.50" cy="434.62" r="1.25" fill="#22408e"/>
<circle cx="379.60" cy="443.53" r="1.9" fill="#9fd3ee" stroke="#4f86b8" stroke-width="0.6"/>
<circle cx="387.50" cy="452.45" r="1.9" fill="#9fd3ee" stroke="#4f86b8" stroke-width="0.6"/>
<circle cx="398.80" cy="461.36" r="1.9" fill="#9fd3ee" stroke="#4f86b8" stroke-width="0.6"/>
<circle cx="398.80" cy="470.28" r="1.9" fill="#9fd3ee" stroke="#4f86b8" stroke-width="0.6"/>
<circle cx="385.80" cy="479.19" r="1.9" fill="#9fd3ee" stroke="#4f86b8" stroke-width="0.6"/>
<circle cx="402.00" cy="488.11" r="1.9" fill="#9fd3ee" stroke="#4f86b8" stroke-width="0.6"/>
<circle cx="369.30" cy="497.02" r="1.9" fill="#9fd3ee" stroke="#4f86b8" stroke-width="0.6"/>
<circle cx="372.30" cy="505.94" r="1.9" fill="#9fd3ee" stroke="#4f86b8" stroke-width="0.6"/>
<circle cx="376.30" cy="514.86" r="1.9" fill="#9fd3ee" stroke="#4f86b8" stroke-width="0.6"/>
<circle cx="394.30" cy="523.77" r="1.9" fill="#9fd3ee" stroke="#4f86b8" stroke-width="0.6"/>
<circle cx="400.50" cy="532.68" r="1.9" fill="#9fd3ee" stroke="#4f86b8" stroke-width="0.6"/>
<circle cx="435.50" cy="541.60" r="1.9" fill="#9fd3ee" stroke="#4f86b8" stroke-width="0.6"/>
<circle cx="414.50" cy="550.51" r="1.9" fill="#9fd3ee" stroke="#4f86b8" stroke-width="0.6"/>
<circle cx="408.80" cy="559.43" r="1.9" fill="#9fd3ee" stroke="#4f86b8" stroke-width="0.6"/>
</g>
<g font-family='"Liberation Sans", sans-serif' font-size="7.4" fill="#a4453f" stroke="#a4453f" stroke-width="0.18">
<text transform="translate(265.70,26.77) scale(0.88,1)" text-anchor="end">65</text>
<text transform="translate(296.30,62.43) scale(0.88,1)" text-anchor="end">91</text>
<text transform="translate(283.70,55.75) scale(0.88,1)" text-anchor="end">100</text>
<text transform="translate(290.30,89.18) scale(0.88,1)" text-anchor="end">50</text>
<text transform="translate(279.20,82.49) scale(0.88,1)" text-anchor="end">82</text>
<text transform="translate(335.80,107.01) scale(0.88,1)" text-anchor="end">99</text>
<text transform="translate(350.80,151.58) scale(0.88,1)" text-anchor="end">92</text>
<text transform="translate(340.50,144.90) scale(0.88,1)" text-anchor="end">50</text>
<text transform="translate(330.10,132.64) scale(0.88,1)" text-anchor="end">93</text>
<text transform="translate(314.70,119.82) scale(0.88,1)" text-anchor="end">98</text>
<text transform="translate(318.50,173.87) scale(0.88,1)" text-anchor="end">60</text>
<text transform="translate(333.00,196.16) scale(0.88,1)" text-anchor="end">74</text>
<text transform="translate(348.00,222.90) scale(0.88,1)" text-anchor="end">100</text>
<text transform="translate(333.00,216.22) scale(0.88,1)" text-anchor="end">92</text>
<text transform="translate(322.70,206.19) scale(0.88,1)" text-anchor="end">98</text>
<text transform="translate(308.30,190.03) scale(0.88,1)" text-anchor="end">63</text>
<text transform="translate(382.40,249.65) scale(0.88,1)" text-anchor="end">100</text>
<text transform="translate(326.20,242.96) scale(0.88,1)" text-anchor="end">99</text>
<text transform="translate(347.00,267.48) scale(0.88,1)" text-anchor="end">100</text>
<text transform="translate(385.10,296.45) scale(0.88,1)" text-anchor="end">74</text>
<text transform="translate(373.20,288.65) scale(0.88,1)" text-anchor="end">100</text>
<text transform="translate(320.20,278.06) scale(0.88,1)" text-anchor="end">67</text>
<text transform="translate(308.50,260.51) scale(0.88,1)" text-anchor="end">78</text>
<text transform="translate(297.60,190.17) scale(0.88,1)" text-anchor="end">96</text>
<text transform="translate(267.50,136.33) scale(0.88,1)" text-anchor="end">66</text>
<text transform="translate(293.50,329.88) scale(0.88,1)" text-anchor="end">51</text>
<text transform="translate(269.30,323.20) scale(0.88,1)" text-anchor="end">0</text>
<text transform="translate(296.60,347.71) scale(0.88,1)" text-anchor="end">99</text>
<text transform="translate(355.80,383.37) scale(0.88,1)" text-anchor="end">79</text>
<text transform="translate(368.00,436.86) scale(0.88,1)" text-anchor="end">55</text>
<text transform="translate(357.20,416.80) scale(0.88,1)" text-anchor="end">73</text>
<text transform="translate(343.30,400.09) scale(0.88,1)" text-anchor="end">98</text>
<text transform="translate(329.20,385.04) scale(0.88,1)" text-anchor="end">91</text>
<text transform="translate(369.50,481.44) scale(0.88,1)" text-anchor="end">72</text>
<text transform="translate(360.00,470.29) scale(0.88,1)" text-anchor="end">100</text>
<text transform="translate(342.00,460.26) scale(0.88,1)" text-anchor="end">72</text>
<text transform="translate(377.00,534.93) scale(0.88,1)" text-anchor="end">96</text>
<text transform="translate(397.50,561.67) scale(0.88,1)" text-anchor="end">100</text>
<text transform="translate(380.80,554.99) scale(0.88,1)" text-anchor="end">99</text>
<text transform="translate(366.50,544.96) scale(0.88,1)" text-anchor="end">99</text>
<text transform="translate(350.80,533.26) scale(0.88,1)" text-anchor="end">85</text>
<text transform="translate(338.00,518.49) scale(0.88,1)" text-anchor="end">82</text>
<text transform="translate(327.00,489.38) scale(0.88,1)" text-anchor="end">65</text>
<text transform="translate(316.80,437.21) scale(0.88,1)" text-anchor="end">95</text>
<text transform="translate(290.30,399.15) scale(0.88,1)" text-anchor="end">57</text>
<text transform="translate(279.50,373.43) scale(0.88,1)" text-anchor="end">79</text>
<text transform="translate(262.60,348.31) scale(0.88,1)" text-anchor="end">0</text>
<text transform="translate(256.60,194.23) scale(0.88,1)" text-anchor="end">8</text>
<text transform="translate(250.40,103.81) scale(0.88,1)" text-anchor="end">100</text>
</g>
<g font-family='"Liberation Sans", sans-serif' font-size="8.85" fill="#111" stroke="#111" stroke-width="0.28">
<text x="339.30" y="9.85">rgm|Rhoba1_1_54829</text>
<text x="310.10" y="18.76">sai|Saico1_73247</text>
<text x="357.90" y="27.68">spo|ACSA_SCHPO</text>
<text x="305.60" y="36.59">lst|Lipst1_1_2524</text>
<text x="313.30" y="45.51">ang|A2QJ30_ASPNC</text>
<text x="327.30" y="54.42">ncr|ACSA_NEUCR</text>
<text x="327.80" y="63.34">tre|G0R7F8_HYPJQ</text>
<text x="323.30" y="72.25">nfu|Nadfu1_81952</text>
<text x="329.80" y="81.17">arx|Arxad1_4469</text>
<text x="330.80" y="90.08">yli|Q6C2Q5_YARLI</text>
<text x="363.60" y="99.00">bin|Babin1_163656</text>
<text x="437.30" y="107.92">bin|Babin1_163508</text>
<text x="361.80" y="116.83">dha|ACS1_DEBHA</text>
<text x="353.80" y="125.74">mgu|A5DQL0_PICGU</text>
<text x="370.70" y="134.66">mbi|Metbi1_44561</text>
<text x="371.10" y="143.57">pic|A3LW76_PICST</text>
<text x="379.60" y="152.49">spa|G3AM24_SPAPN</text>
<text x="358.80" y="161.40">pta|Pacta1_2_51037</text>
<text x="351.80" y="170.32">kcp|W6MH08_9ASCO</text>
<text x="358.60" y="179.23">ppa|C4R1P7_PICPG</text>
<text x="355.30" y="188.15">opm|W1Q9M7_OGAPD</text>
<text x="358.60" y="197.06">car|Canar1_198565</text>
<text x="383.80" y="205.98">dbx|Dekbr2_21718</text>
<text x="367.00" y="214.89">pme|Picme2_14799</text>
<text x="367.00" y="223.81">pku|A0A099P6G3_PICKU</text>
<text x="369.30" y="232.72">aru|Ascru1_68919</text>
<text x="413.30" y="241.64">aru|Ascru1_68920</text>
<text x="419.30" y="250.55">aru|Ascru1_8816</text>
<text x="366.90" y="259.47">wan|Wican1_26279</text>
<text x="372.00" y="268.38">cut|Cybja1_127431</text>
<text x="407.30" y="277.30">vpo|A7TKF6_VANPO</text>
<text x="421.80" y="286.21">kla|ACS1_KLULA</text>
<text x="433.80" y="295.13">zro|C5DSJ7_ZYGRC</text>
<text x="424.90" y="304.04">sce|ACS1_YEAST</text>
<text x="336.30" y="312.96">ang|A2QKJ0_ASPNC</text>
<text x="343.80" y="321.87">tre|G0R7W5_HYPJQ</text>
<text x="347.30" y="330.79">ncr|Q7S7A6_NEUCR</text>
<text x="322.00" y="339.70">nfu|Nadfu1_40027</text>
<text x="343.60" y="348.62">nfu|Nadfu1_46268</text>
<text x="345.80" y="357.53">arx|Arxad1_247</text>
<text x="391.00" y="366.45">aru|Ascru1_79817</text>
<text x="378.60" y="375.36">cut|Cybja1_171467</text>
<text x="371.60" y="384.28">wan|Wican1_82024</text>
<text x="381.80" y="393.19">vpo|A7TRF7_VANPO</text>
<text x="422.40" y="402.11">hva|Hanva1_1_51403</text>
<text x="379.60" y="411.02">sce|ACS2_YEAST</text>
<text x="386.10" y="419.94">zro|C5DYN3_ZYGRC</text>
<text x="386.90" y="428.85">kla|ACS2_KLULA</text>
<text x="387.80" y="437.77">lth|C5DMS2_LACTC</text>
<text x="381.90" y="446.68">bin|Babin1_161669</text>
<text x="389.80" y="455.60">mgu|A5DNG2_PICGU</text>
<text x="401.10" y="464.51">dha|ACS2_DEBHA</text>
<text x="401.10" y="473.43">mbi|Metbi1_40216</text>
<text x="388.10" y="482.34">pic|A3LXD8_PICST</text>
<text x="404.30" y="491.26">spa|G3AFM0_SPAPN</text>
<text x="371.60" y="500.17">pta|Pacta1_2_48352</text>
<text x="374.60" y="509.09">ppa|C4R4G6_PICPG</text>
<text x="378.60" y="518.00">kcp|W6MN70_9ASCO</text>
<text x="396.60" y="526.92">car|Canar1_202112</text>
<text x="402.80" y="535.83">opm|W1Q6U9_OGAPD</text>
<text x="437.80" y="544.75">dbx|Dekbr2_3704</text>
<text x="416.80" y="553.66">pku|A0A099P037_PICKU</text>
<text x="411.10" y="562.58">pme|Picme2_71027</text>
</g>
<g stroke="#c6c6c6" stroke-width="1.5">
<line x1="72" y1="243.5" x2="207" y2="243.5"/>
<line x1="72" y1="382.6" x2="208" y2="382.6"/>
</g>
<g font-family='"Liberation Sans", sans-serif' font-size="13.5" fill="#1e1e1e" stroke="#1e1e1e" stroke-width="0.22">
<text x="139.5" y="10.6" text-anchor="middle">square leaf nodes for</text>
<text x="139.5" y="27.3" text-anchor="middle">basidiomycete proteins</text>
<text x="139.5" y="53.8" text-anchor="middle">circle leaf nodes for</text>
<text x="139.5" y="69.6" text-anchor="middle">ascomycete proteins</text>
<text x="139.5" y="96.5" text-anchor="middle">different leaf nodes</text>
<text x="137.8" y="113.3" text-anchor="middle">colours to identify taxa</text>
<text x="139.5" y="140.1" text-anchor="middle">circle leaf nodes for</text>
<text x="139.5" y="156.1" text-anchor="middle">species with one protein</text>
<text x="139.5" y="172.0" text-anchor="middle">in the homolog group</text>
<text x="139.5" y="198.8" text-anchor="middle">sphere leaf nodes for</text>
<text x="139.5" y="214.9" text-anchor="middle">species with more than one</text>
<text x="139.5" y="230.8" text-anchor="middle">protein in the homolog group</text>
<text x="139.5" y="260.2" text-anchor="middle">bold vertical lines to</text>
<text x="139.5" y="276.2" text-anchor="middle">identify in-paralogs</text>
<text x="139.5" y="301.2" text-anchor="middle">bold horizontal lines to</text>
<text x="139.5" y="317.0" text-anchor="middle">identify <tspan font-style="italic">S. cerevisiae</tspan> proteins</text>
<text x="139.5" y="340.2" text-anchor="middle">dashed lines for the</text>
<text x="139.5" y="357.5" text-anchor="middle">basal protein in the</text>
<text x="139.5" y="373.0" text-anchor="middle">ortholog group</text>
<text x="139.5" y="397.5" text-anchor="middle">different colours for</text>
<text x="139.5" y="413.3" text-anchor="middle">each ortholog group</text>
<text x="139.5" y="436.6" text-anchor="middle">species code and</text>
<text x="139.5" y="452.6" text-anchor="middle">gene/protein accession</text>
<text x="139.5" y="477.7" text-anchor="middle">bootstrap support</text>
<text x="140.0" y="493.7" text-anchor="middle">from PhyML</text>
</g>
<g font-family='"Liberation Sans", sans-serif' font-size="18" fill="#262626" stroke="#262626" stroke-width="0.15">
<text transform="translate(16.0,121.7) rotate(-90)" text-anchor="middle">leaf node</text>
<text transform="translate(37.0,121.9) rotate(-90)" text-anchor="middle">annotations</text>
<text transform="translate(16.0,313.4) rotate(-90)" text-anchor="middle">line</text>
<text transform="translate(37.0,313.9) rotate(-90)" text-anchor="middle">annotations</text>
<text transform="translate(16.0,443.4) rotate(-90)" text-anchor="middle">other</text>
<text transform="translate(37.0,443.6) rotate(-90)" text-anchor="middle">annotations</text>
</g>
<g>
<line x1="208.75" y1="16.25" x2="327.92" y2="7.52" stroke="#5a5a5a" stroke-width="1.25"/>
<polygon points="335.00,7.00 326.70,11.42 328.62,7.47 326.15,3.84" fill="#555"/>
<line x1="203.1" y1="54.4" x2="300.13" y2="19.03" stroke="#5a5a5a" stroke-width="1.25"/>
<polygon points="306.80,16.60 300.02,23.12 300.79,18.79 297.42,15.98" fill="#555"/>
<line x1="212.5" y1="102.5" x2="303.43" y2="47.19" stroke="#5a5a5a" stroke-width="1.25"/>
<polygon points="309.50,43.50 304.13,51.22 304.03,46.83 300.18,44.72" fill="#555"/>
<line x1="212.5" y1="102.5" x2="312.73" y2="70.93" stroke="#5a5a5a" stroke-width="1.25"/>
<polygon points="319.50,68.80 312.44,75.01 313.40,70.72 310.16,67.76" fill="#555"/>
<line x1="216.8" y1="151.1" x2="320.87" y2="90.47" stroke="#5a5a5a" stroke-width="1.25"/>
<polygon points="327.00,86.90 321.48,94.51 321.47,90.12 317.66,87.95" fill="#555"/>
<line x1="227.8" y1="210.0" x2="343.79" y2="128.68" stroke="#5a5a5a" stroke-width="1.25"/>
<polygon points="349.60,124.60 344.74,132.65 344.36,128.27 340.38,126.43" fill="#555"/>
<line x1="214.1" y1="264.8" x2="320.34" y2="243.03" stroke="#5a5a5a" stroke-width="1.25"/>
<polygon points="327.30,241.60 319.64,247.05 321.03,242.88 318.11,239.60" fill="#555"/>
<line x1="228.0" y1="303.9" x2="390.40" y2="300.35" stroke="#5a5a5a" stroke-width="1.25"/>
<polygon points="397.50,300.20 388.98,304.19 391.10,300.34 388.82,296.59" fill="#555"/>
<line x1="199.2" y1="353.6" x2="270.78" y2="314.22" stroke="#5a5a5a" stroke-width="1.25"/>
<polygon points="277.00,310.80 271.30,318.27 271.39,313.88 267.63,311.62" fill="#555"/>
<line x1="201.1" y1="401.6" x2="290.73" y2="337.43" stroke="#5a5a5a" stroke-width="1.25"/>
<polygon points="296.50,333.30 291.72,341.40 291.30,337.03 287.30,335.22" fill="#555"/>
<line x1="201.1" y1="401.6" x2="286.54" y2="362.55" stroke="#5a5a5a" stroke-width="1.25"/>
<polygon points="293.00,359.60 286.76,366.63 287.18,362.26 283.60,359.72" fill="#555"/>
<line x1="209.2" y1="440.6" x2="371.01" y2="412.03" stroke="#5a5a5a" stroke-width="1.25"/>
<polygon points="378.00,410.80 370.19,416.04 371.70,411.91 368.87,408.55" fill="#555"/>
<line x1="194.5" y1="482.0" x2="301.25" y2="437.53" stroke="#5a5a5a" stroke-width="1.25"/>
<polygon points="307.80,434.80 301.32,441.61 301.89,437.26 298.40,434.60" fill="#555"/>
</g>
<g stroke="#3a3a3a" stroke-width="1.3">
<line x1="239.3" y1="569" x2="283.5" y2="569"/>
<line x1="239.3" y1="564.3" x2="239.3" y2="573.5"/>
<line x1="283.5" y1="564.3" x2="283.5" y2="573.5"/>
</g>
<text x="239.0" y="582.3" font-family='"Liberation Sans", sans-serif' font-size="11.4" fill="#1a1a1a">0.32</text>
</svg>
</body></html>
